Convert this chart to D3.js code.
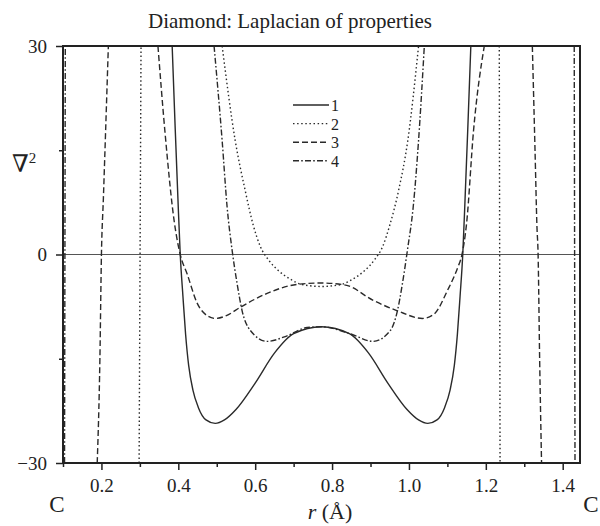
<!DOCTYPE html>
<html lang="en">
<head>
<meta charset="UTF-8" />
<title>Diamond: Laplacian of properties</title>
<script src="https://d3js.org/d3.v7.min.js"></script>
<style>
    body { margin: 0; background: #fff; }
    svg { display: block; font-family: "Liberation Serif", "DejaVu Serif", serif; }
    .tick line { stroke: #222; stroke-width: 1.5px; }
    .curve { fill: none; stroke: #2a2a2a; stroke-width: 1.4px; }
</style>
</head>
<body>
<svg width="600" height="526"></svg>
<script>
    // r (Angstrom) vs Laplacian value, null = gap between branches
    const curve1 = [[0.384, 30], [0.392, 18], [0.399, 8], [0.405, 0], [0.412, -6], [0.419, -11.5], [0.427, -16],
        [0.438, -19.5], [0.452, -22], [0.472, -23.8], [0.496, -24.3], [0.52, -23.8], [0.55, -22.3], [0.6, -18.5],
        [0.65, -14.2], [0.7, -11.4], [0.7725, -10.4], [0.845, -11.4], [0.895, -14.2], [0.945, -18.5], [0.995, -22.3],
        [1.025, -23.8], [1.049, -24.3], [1.073, -23.8], [1.093, -22], [1.107, -19.5], [1.118, -16], [1.126, -11.5],
        [1.133, -6], [1.14, 0], [1.146, 8], [1.153, 18], [1.161, 30]];
    const curve2 = [[0.298, -30], [0.3005, 0], [0.303, 30], null,
        [0.514, 30], [0.548, 16.4], [0.574, 9.2], [0.595, 4.2], [0.613, 1.2], [0.635, -0.8], [0.66, -2.3],
        [0.69, -3.5], [0.72, -4.3], [0.7725, -4.6], [0.825, -4.3], [0.855, -3.5], [0.885, -2.3], [0.91, -0.8],
        [0.932, 1.2], [0.95, 4.2], [0.973, 9.2], [0.997, 16.4], [1.025, 30], null,
        [1.235, 30], [1.237, -30]];
    const curve3 = [[0.189, -30], [0.196, -15], [0.2, 0], [0.205, 8], [0.211, 18], [0.218, 30], null,
        [0.347, 30], [0.365, 17.8], [0.39, 4.5], [0.405, 0], [0.423, -2.8], [0.449, -7], [0.475, -8.8], [0.496, -9.2],
        [0.525, -8.8], [0.561, -7.6], [0.631, -5.6], [0.709, -4.3], [0.7725, -4.1], [0.835, -4.4], [0.907, -6.6],
        [0.97, -8.1], [1.035, -9.2], [1.065, -8.6], [1.1, -5.2], [1.126, -2], [1.138, 0], [1.15, 4.5],
        [1.168, 17.8], [1.196, 30], null,
        [1.321, 30], [1.328, 15], [1.333, 4], [1.336, 0], [1.34, -15], [1.345, -30]];
    const curve4 = [[0.104, -30], [0.106, 30], null,
        [0.493, 30], [0.514, 16.4], [0.527, 6.8], [0.54, 0.6], [0.553, -4.2], [0.566, -8.1], [0.587, -10.9],
        [0.631, -12.5], [0.683, -11.7], [0.735, -10.5], [0.7725, -10.4], [0.847, -11.4], [0.907, -12.5],
        [0.952, -10.9], [0.97, -8.1], [0.983, -4.2], [0.996, 0.6], [1.011, 6.8], [1.025, 16.4], [1.04, 30], null,
        [1.43, 30], [1.432, -30]];

    const seriesNames = ["1", "2", "3", "4"];
    const seriesData = [curve1, curve2, curve3, curve4];
    const seriesDash = [null, "1.5,2.6", "6,3", "6,2.2,1.6,2.2"];

    const xMajor = [0.2, 0.4, 0.6, 0.8, 1.0, 1.2, 1.4];
    const xMinor = [0.1, 0.3, 0.5, 0.7, 0.9, 1.1, 1.3];
    const yMajor = [-30, 0, 30];
    const yMinor = [-15, 15];

    const svg = d3.select("svg");
    const pLeft = 63, pRight = 580, pTop = 46, pBottom = 463;

    const x = d3.scaleLinear().domain([0.1, 1.445]).range([pLeft, pRight]);
    const y = d3.scaleLinear().domain([-30, 30]).range([pBottom, pTop]);

    svg.append("defs").append("clipPath").attr("id", "plot")
        .append("rect")
        .attr("x", pLeft).attr("y", pTop)
        .attr("width", pRight - pLeft).attr("height", pBottom - pTop);

    // title
    svg.append("text")
        .attr("x", 290).attr("y", 28)
        .attr("text-anchor", "middle")
        .attr("font-size", 21)
        .attr("fill", "#222")
        .text("Diamond: Laplacian of properties");

    // axes
    svg.append("g").attr("transform", `translate(0,${pBottom})`)
        .call(d3.axisBottom(x).tickValues(xMajor).tickSize(7).tickPadding(9).tickFormat(d3.format(".1f")));
    svg.append("g").attr("transform", `translate(0,${pBottom})`)
        .call(d3.axisBottom(x).tickValues(xMinor).tickSize(4).tickFormat(""));
    svg.append("g").attr("transform", `translate(${pLeft},0)`)
        .call(d3.axisLeft(y).tickValues(yMajor).tickSize(7).tickPadding(9).tickFormat(d => d < 0 ? "\u2212" + (-d) : d));
    svg.append("g").attr("transform", `translate(${pLeft},0)`)
        .call(d3.axisLeft(y).tickValues(yMinor).tickSize(4).tickFormat(""));
    svg.selectAll(".domain").remove();
    svg.selectAll(".tick text")
        .attr("font-family", "Liberation Serif")
        .attr("font-size", 19)
        .attr("fill", "#222");

    // zero line
    svg.append("line")
        .attr("x1", pLeft).attr("x2", pRight)
        .attr("y1", y(0)).attr("y2", y(0))
        .attr("stroke", "#555").attr("stroke-width", 1);

    const line = d3.line()
        .defined(d => d !== null)
        .x(d => x(d[0]))
        .y(d => y(d[1]))
        .curve(d3.curveMonotoneX);

    const curves = svg.append("g").attr("clip-path", "url(#plot)");
    seriesData.forEach((data, i) => {
        curves.append("path")
            .attr("class", "curve")
            .attr("d", line(data))
            .attr("stroke-dasharray", seriesDash[i]);
    });

    // frame
    svg.append("rect")
        .attr("x", pLeft).attr("y", pTop)
        .attr("width", pRight - pLeft).attr("height", pBottom - pTop)
        .attr("fill", "none").attr("stroke", "#222").attr("stroke-width", 2);

    // legend
    const legend = svg.append("g");
    seriesNames.forEach((name, i) => {
        const ly = 105 + i * 18.6;
        legend.append("line")
            .attr("x1", 293).attr("x2", 329)
            .attr("y1", ly).attr("y2", ly)
            .attr("class", "curve")
            .attr("stroke-dasharray", seriesDash[i]);
        legend.append("text")
            .attr("x", 331).attr("y", ly + 6)
            .attr("font-size", 16)
            .attr("fill", "#222")
            .text(name);
    });

    // axis titles
    const yl = svg.append("text").attr("x", 12).attr("y", 172).attr("fill", "#222");
    yl.append("tspan").attr("font-size", 24).text("\u2207");
    yl.append("tspan").attr("font-size", 15).attr("dy", -9).text("2");

    const xl = svg.append("text")
        .attr("x", 330).attr("y", 519)
        .attr("text-anchor", "middle")
        .attr("font-size", 22)
        .attr("fill", "#222");
    xl.append("tspan").attr("font-style", "italic").text("r");
    xl.append("tspan").text(" (\u00C5)");

    svg.append("text").attr("x", 57).attr("y", 512).attr("text-anchor", "middle")
        .attr("font-size", 23).attr("fill", "#222").text("C");
    svg.append("text").attr("x", 591).attr("y", 512).attr("text-anchor", "middle")
        .attr("font-size", 23).attr("fill", "#222").text("C");
</script>
</body>
</html>
